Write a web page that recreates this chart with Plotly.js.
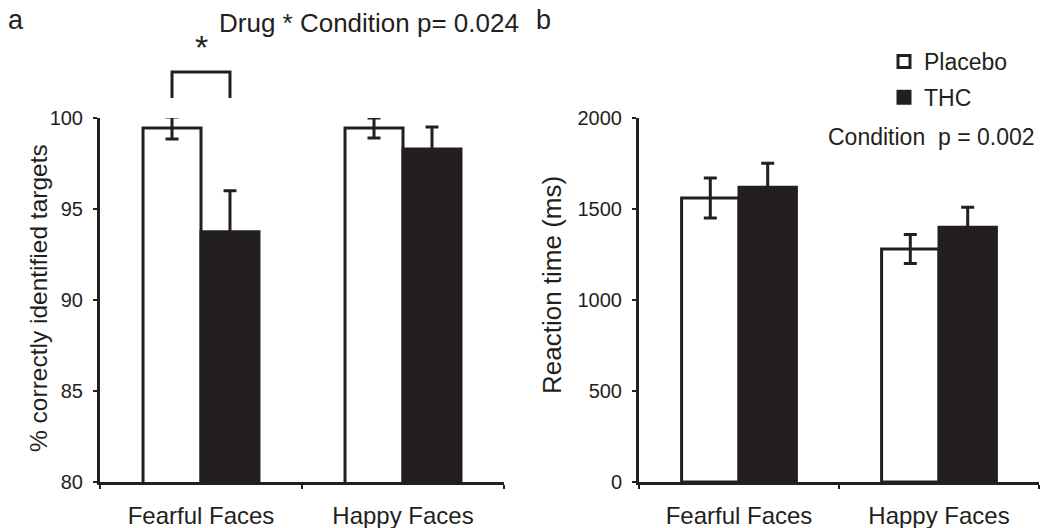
<!DOCTYPE html>
<html>
<head>
<meta charset="utf-8">
<script src="https://cdn.plot.ly/plotly-3.0.1.min.js"></script>
<style>html,body{margin:0;padding:0;background:#fff;}#chart{width:1041px;height:528px;}</style>
</head>
<body>
<div id="chart"></div>
<script>
const categories = ["Fearful Faces", "Happy Faces"];
const accPlacebo = [99.45, 99.45];
const accPlaceboErr = [0.6, 0.55];
const accTHC = [93.75, 98.3];
const accTHCErr = [2.25, 1.2];
const rtPlacebo = [1560, 1280];
const rtPlaceboErr = [110, 80];
const rtTHC = [1620, 1400];
const rtTHCErr = [132, 110];
const accTicks = [80, 85, 90, 95, 100];
const rtTicks = [0, 500, 1000, 1500, 2000];

const INK = '#231f20';
const FONT = 'Liberation Sans, Arial, sans-serif';
const BARGAP = 0.426;
const W = 1041, H = 528;

function err(arr) {
  return {type: 'data', array: arr, visible: true, color: INK, thickness: 3, width: 6.5};
}
function barTrace(y, e, name, fill, xa, ya, showlegend) {
  return {
    type: 'bar', x: categories, y: y, name: name, xaxis: xa, yaxis: ya,
    marker: {color: fill, line: {color: INK, width: 3}},
    error_y: err(e), showlegend: showlegend, legendgroup: name,
    cliponaxis: false, hoverinfo: 'skip'
  };
}

const data = [
  barTrace(accPlacebo, accPlaceboErr, 'Placebo', '#ffffff', 'x', 'y', true),
  barTrace(accTHC, accTHCErr, 'THC', INK, 'x', 'y', true),
  barTrace(rtPlacebo, rtPlaceboErr, 'Placebo', '#ffffff', 'x2', 'y2', false),
  barTrace(rtTHC, rtTHCErr, 'THC', INK, 'x2', 'y2', false)
];

function xax(domain, anchor) {
  return {
    domain: domain, anchor: anchor, type: 'category',
    showline: true, linewidth: 3, linecolor: INK,
    ticks: 'outside', tickson: 'boundaries', ticklen: 4, tickwidth: 2, tickcolor: INK,
    tickfont: {family: FONT, size: 24, color: INK}, ticklabelstandoff: 10,
    showgrid: false, zeroline: false, fixedrange: true
  };
}
function yax(domain, anchor, range, ticks) {
  return {
    domain: domain, anchor: anchor, range: range,
    tickmode: 'array', tickvals: ticks, ticktext: ticks.map(String),
    showline: true, linewidth: 3, linecolor: INK,
    ticks: 'outside', ticklen: 4, tickwidth: 2, tickcolor: INK,
    tickfont: {family: FONT, size: 20, color: INK}, ticklabelstandoff: 6,
    showgrid: false, zeroline: false, fixedrange: true
  };
}

const yDom = [(H - 482) / H, (H - 118) / H];
const off = (1 - BARGAP) / 4;

const annFont = (s) => ({family: FONT, size: s, color: INK});
const annotations = [
  {text: 'a', x: 16 / W, y: (H - 20) / H, xref: 'paper', yref: 'paper', xanchor: 'center', yanchor: 'middle', showarrow: false, font: annFont(27)},
  {text: 'b', x: 543 / W, y: (H - 20) / H, xref: 'paper', yref: 'paper', xanchor: 'center', yanchor: 'middle', showarrow: false, font: annFont(27)},
  {text: 'Drug * Condition p= 0.024', x: 217 / W, y: (H - 23) / H, xref: 'paper', yref: 'paper', xanchor: 'left', yanchor: 'middle', showarrow: false, font: annFont(26)},
  {text: '*', x: 0, y: (H - 47) / H, xref: 'x', yref: 'paper', xanchor: 'center', yanchor: 'middle', showarrow: false, font: annFont(34)},
  {text: 'Condition\u00a0\u00a0p = 0.002', x: 1037 / W, y: (H - 137) / H, xref: 'paper', yref: 'paper', xanchor: 'right', yanchor: 'middle', showarrow: false, font: annFont(23)},
  {text: '% correctly identified targets', x: 38 / W, y: (H - 298) / H, xref: 'paper', yref: 'paper', xanchor: 'center', yanchor: 'middle', textangle: -90, showarrow: false, font: annFont(24.5)},
  {text: 'Reaction time (ms)', x: 552 / W, y: (H - 285) / H, xref: 'paper', yref: 'paper', xanchor: 'center', yanchor: 'middle', textangle: -90, showarrow: false, font: annFont(26)}
];

const shapes = [
  {type: 'path', xref: 'x', yref: 'paper',
   path: 'M ' + (-off) + ' ' + ((H - 98) / H) + ' L ' + (-off) + ' ' + ((H - 72) / H) + ' L ' + off + ' ' + ((H - 72) / H) + ' L ' + off + ' ' + ((H - 98) / H),
   line: {color: INK, width: 3}}
];

const layout = {
  width: W, height: H,
  margin: {l: 0, r: 0, t: 0, b: 0, autoexpand: false},
  paper_bgcolor: '#ffffff', plot_bgcolor: 'rgba(0,0,0,0)',
  barmode: 'group', bargap: BARGAP, bargroupgap: 0,
  font: {family: FONT, color: INK},
  xaxis: xax([100 / W, 504 / W], 'y'),
  yaxis: yax(yDom, 'x', [80, 100], accTicks),
  xaxis2: xax([639 / W, 1039 / W], 'y2'),
  yaxis2: yax(yDom, 'x2', [0, 2000], rtTicks),
  showlegend: true,
  legend: {x: 884 / W, y: (H - 40) / H, xanchor: 'left', yanchor: 'top',
           font: {family: FONT, size: 23, color: INK}, bgcolor: 'rgba(0,0,0,0)',
           tracegroupgap: 3, itemwidth: 30},
  annotations: annotations,
  shapes: shapes
};

Plotly.newPlot('chart', data, layout, {staticPlot: true, displayModeBar: false});
</script>
</body>
</html>
